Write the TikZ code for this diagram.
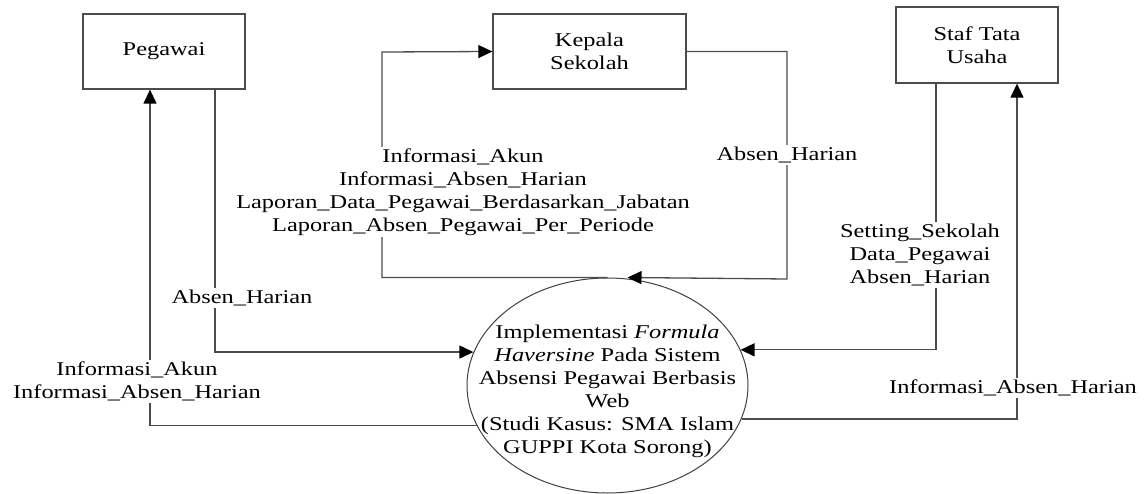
\documentclass[tikz,border=0pt]{standalone}
\usepackage{fontspec}
\setmainfont{Liberation Serif}[FakeStretch=1.25]
\usepackage{tikz}
\usetikzlibrary{arrows.meta,positioning,shapes.geometric}

\begin{document}
\begin{tikzpicture}[x=1pt,y=-1pt,
  font=\fontsize{19.5}{23}\selectfont,
  entity/.style={draw=black!70,line width=1.3pt,rectangle,align=center,inner sep=0pt},
  flow/.style={draw=black!70,line width=1.3pt,-{Triangle[length=14pt,width=13pt,black]}},
  flowlabel/.style={fill=white,align=center,inner sep=1.5pt}]
\useasboundingbox (0,0) rectangle (1147,494);

\node[entity,minimum width=162pt,minimum height=75pt] (peg) at (164,51.5) {Pegawai};
\node[entity,minimum width=193pt,minimum height=75pt] (kep) at (589.5,51.5) {Kepala\\Sekolah};
\node[entity,minimum width=162pt,minimum height=76pt] (staf) at (977,45) {Staf Tata\\Usaha};
\node[draw=black!75,line width=1pt,ellipse,minimum width=281pt,minimum height=215pt,
  inner sep=0pt] (proc) at (607.5,385.5) {};
\node[align=center,inner sep=0pt] (proctext) at ([yshift=-6pt]proc.center)
  {Implementasi \textit{Formula}\\\textit{Haversine} Pada Sistem\\Absensi Pegawai Berbasis\\Web\\(Studi Kasus: SMA Islam\\GUPPI Kota Sorong)};

\coordinate (kl) at (382,52);
\coordinate (kr) at (787,279);

% pegawai
\draw[flow] (proc.197.3) -| ([xshift=-14pt]peg.south);
\draw[flow] ([xshift=51pt]peg.south) |- (proc.166.3);
\node[flowlabel] (lpeg1) at (137,381.5) {Informasi\_Akun\\Informasi\_Absen\_Harian};
\node[flowlabel] (lpeg2) at (242,298) {Absen\_Harian};

% kepala sekolah
\draw[flow] (proc.north) -| (kl) -- (kep.west);
\draw[flow] (kep.east) -| (kr) -- ([xshift=20pt]proc.north);
\node[flowlabel] (lkep1) at (463,192) {Informasi\_Akun\\Informasi\_Absen\_Harian\\Laporan\_Data\_Pegawai\_Berdasarkan\_Jabatan\\Laporan\_Absen\_Pegawai\_Per\_Periode};
\node[flowlabel] (lkep2) at (787,155) {Absen\_Harian};

% staf tata usaha
\draw[flow] ([xshift=-41pt]staf.south) |- (proc.15);
\draw[flow] (proc.-14.6) -| ([xshift=40pt]staf.south);
\node[flowlabel] (lstaf1) at (920,255) {Setting\_Sekolah\\Data\_Pegawai\\Absen\_Harian};
\node[flowlabel] (lstaf2) at (1013,388) {Informasi\_Absen\_Harian};
\end{tikzpicture}
\end{document}
